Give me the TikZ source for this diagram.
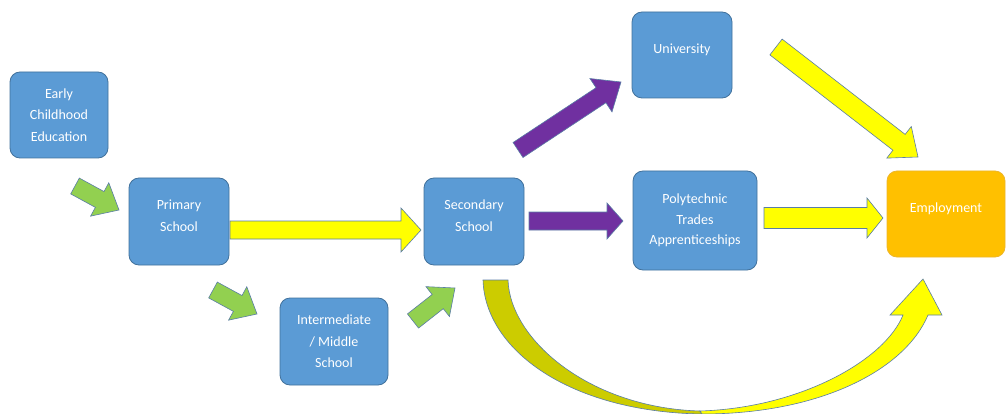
\documentclass[tikz,border=0pt]{standalone}
\usepackage{fontspec}
\setmainfont{Carlito}
\usetikzlibrary{calc}
\definecolor{boxblue}{HTML}{5B9BD5}
\definecolor{boxline}{HTML}{41719C}
\definecolor{arrline}{HTML}{5A7DA6}
\definecolor{grn}{HTML}{92D050}
\definecolor{purp}{HTML}{7030A0}
\definecolor{yel}{HTML}{FFFF00}
\definecolor{darkyel}{HTML}{CCCC00}
\definecolor{orng}{HTML}{FFC000}
\definecolor{orngline}{HTML}{EDB52A}
% block arrow: [style]{tail}{tip}{half shaft}{half head}{head length}
\newcommand{\blockarrow}[6][]{%
  \coordinate (hb) at ($(#3)!#6!(#2)$);
  \filldraw[#1] ($(#2)!#4!90:(#3)$) -- ($(hb)!#4!90:(#3)$) -- ($(hb)!#5!90:(#3)$) %
  -- (#3) -- ($(hb)!#5!-90:(#3)$) -- ($(hb)!#4!-90:(#3)$) -- ($(#2)!#4!-90:(#3)$) -- cycle;}

\begin{document}
\begin{tikzpicture}[x=1pt,y=-1pt,
    box/.style={draw=boxline, fill=boxblue, line width=0.8pt, rounded corners=10pt,
      text=white, align=center, inner sep=0pt, font=\fontsize{14}{21.5}\selectfont},
    uptext/.style={text depth=12pt},
    barr/.style={draw=arrline, line width=0.6pt, fill=#1}]
  \useasboundingbox (0,0) rectangle (1006,414);
  \node[box, minimum width=98, minimum height=86] (early) at (59,115) {Early\\Childhood\\Education};
  \node[box, uptext, minimum width=100, minimum height=87] (primary) at (179,221.5) {Primary\\School};
  \node[box, minimum width=108, minimum height=87] (middle) at (334,341.5) {Intermediate\\/ Middle\\School};
  \node[box, uptext, minimum width=100, minimum height=87] (secondary) at (474,221.5) {Secondary\\School};
  \node[box, uptext, minimum width=100, minimum height=86] (univ) at (682,55) {University};
  \node[box, minimum width=124, minimum height=99, font=\fontsize{14}{20.5}\selectfont] (poly) at (695,220.5) {Polytechnic\\Trades\\Apprenticeships};
  \node[box, uptext, draw=orngline, fill=orng, minimum width=118, minimum height=86] (employ) at (946,214) {Employment};

  \coordinate (g1a) at (75,186);  \coordinate (g1b) at (119,210);
  \coordinate (g2a) at (213,290); \coordinate (g2b) at (257,314);
  \coordinate (g3a) at (413,321); \coordinate (g3b) at (455,288);
  \coordinate (y1a) at (230,230); \coordinate (y1b) at (421,230);
  \coordinate (p1a) at (529,221); \coordinate (p1b) at (623,221);
  \coordinate (p2a) at (518,150); \coordinate (p2b) at (621,82);
  \coordinate (y2a) at (776,47);  \coordinate (y2b) at (918,157);
  \coordinate (y3a) at (764,218); \coordinate (y3b) at (883,218);

  \blockarrow[barr=grn]{g1a}{g1b}{9pt}{19pt}{22pt}
  \blockarrow[barr=grn]{g2a}{g2b}{9pt}{19pt}{22pt}
  \blockarrow[barr=grn]{g3a}{g3b}{9pt}{19pt}{22pt}
  \blockarrow[barr=yel]{y1a}{y1b}{9pt}{22pt}{20pt}
  \blockarrow[barr=purp]{p1a}{p1b}{9pt}{18pt}{16pt}
  \blockarrow[barr=purp]{p2a}{p2b}{9pt}{20pt}{24pt}
  \blockarrow[barr=yel]{y2a}{y2b}{10pt}{20pt}{24pt}
  \blockarrow[barr=yel]{y3a}{y3b}{10.5pt}{20pt}{16pt}

  % curved arrow under the boxes
  \filldraw[barr=darkyel] (483,280) .. controls (485,350) and (570,412) .. (702,414) %
    -- (700,411) .. controls (590,408) and (510,340) .. (508,280) -- cycle;
  \filldraw[barr=yel] (702,414) .. controls (820,414) and (905,370) .. (928,315) %
    -- (942,315) -- (923,279) -- (890,315) -- (903,315) %
    .. controls (885,360) and (800,408) .. (700,411) -- cycle;
\end{tikzpicture}
\end{document}
